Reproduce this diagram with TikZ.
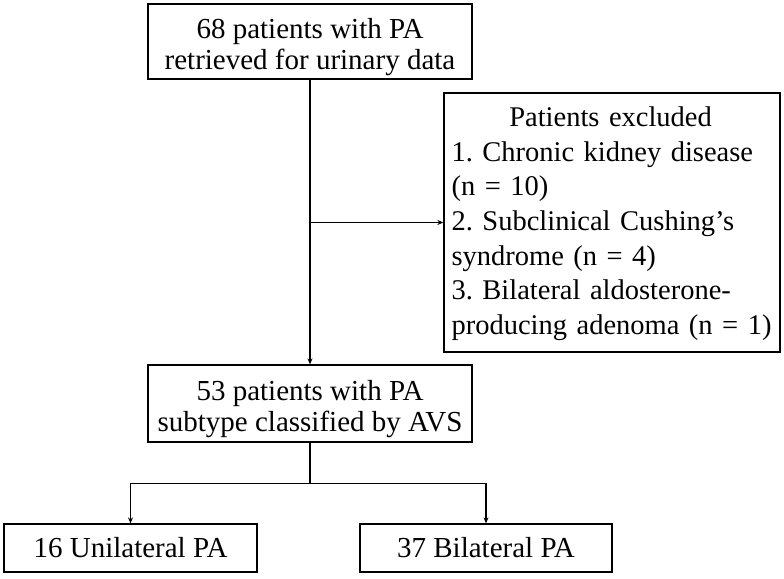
\documentclass[tikz,border=0pt]{standalone}
\usepackage{fontspec}
\setmainfont{Liberation Serif}
\usetikzlibrary{arrows.meta}
\begin{document}
\begin{tikzpicture}[x=1pt,y=-1pt,
  box/.style={draw,line width=1.3pt,inner sep=0pt,align=center,font=\fontsize{29}{31}\selectfont\frenchspacing},
  txt/.style={inner sep=0pt,font=\fontsize{28.5}{34.7}\selectfont\frenchspacing},
  conn/.style={line width=1.6pt},
  arr/.style={line width=1.6pt,-{Stealth[length=6pt,width=5pt]}}]
\useasboundingbox (0,0) rectangle (784,578);
\node[box,minimum width=324pt,minimum height=75pt] (top) at (310,41.5) {\rule{0pt}{32pt}68 patients with PA\\retrieved for urinary data};
\node[box,minimum width=336pt,minimum height=259pt] (excl) at (612,222.5) {};
\node[txt,anchor=north west,text width=326pt,align=left] (excltext) at ([xshift=8pt,yshift=-14pt]excl.north west) {\makebox[318pt]{Patients excluded}\\
1. Chronic kidney disease\\(n = 10)\\2. Subclinical Cushing’s\\syndrome (n = 4)\\3. Bilateral aldosterone-\\producing adenoma (n = 1)};
\node[box,minimum width=324pt,minimum height=77pt] (mid) at (310,403.5) {\rule{0pt}{32pt}53 patients with PA\\subtype classified by AVS};
\node[box,minimum width=253pt,minimum height=48pt] (uni) at (130.5,548) {16 Unilateral PA};
\node[box,minimum width=252pt,minimum height=48pt] (bil) at (486,548) {37 Bilateral PA};
\coordinate (j1) at (top.south |- excl.west);
\coordinate (j2) at ([yshift=-41pt]mid.south);
\draw[arr] (top.south) -- (top.south |- mid.north);
\draw[arr] (j1) -- (excl.west);
\draw[conn] (mid.south) -- (j2);
\draw[arr] (j2) -| (uni.north);
\draw[arr] (j2) -| (bil.north);
\end{tikzpicture}
\end{document}
